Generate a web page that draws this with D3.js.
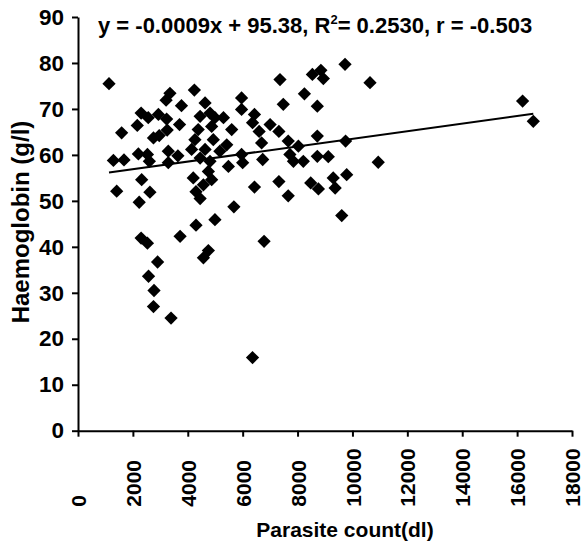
<!DOCTYPE html>
<html>
<head>
<meta charset="utf-8">
<script src="https://cdn.jsdelivr.net/npm/d3@7"></script>
<style>
  body { margin: 0; background: #fff; }
  text { font-family: "Liberation Sans", Arial, sans-serif; font-weight: bold; fill: #000; }
</style>
</head>
<body>
<div id="chart"></div>
<script>
// parasite count (per dl) and haemoglobin (g/l)
const parasiteCount = [
  1130, 1290, 1676, 1590, 1410, 2200, 2160, 2300, 2560, 2530, 2600, 2320, 2230, 2620,
  2930, 2750, 2960, 3250, 3210, 3350, 3290, 3290, 3230, 3770, 3700, 3640,
  4240, 4630, 4810, 4450, 5300, 5600, 4380, 4870, 4260, 4930, 5420, 4140, 4630, 5170,
  4450, 4810, 5480, 4750, 4200, 4870, 4570, 4300, 4450, 4990, 5680, 4990, 4300,
  5960, 5960, 5960, 6000, 6430, 6360, 6600, 6690, 6730, 6430, 7000, 7320, 7360, 7480,
  7660, 7720, 7850, 8210, 8030, 7320, 7660, 8250, 8540, 8850, 8940, 8720, 8720, 8720,
  9120, 8480, 8760, 9300, 9370, 9610, 9730, 9790, 9750, 10640, 10940, 16200, 16590,
  2300, 2530, 3720, 6780, 2900, 2570, 2770, 2750, 3390, 4570, 4750, 6360
];
const haemoglobin = [
  75.5, 58.8, 58.9, 64.8, 52.1, 60.2, 66.4, 69.1, 68.1, 60.1, 58.6, 54.6, 49.7, 51.9,
  68.8, 63.7, 64.2, 65.4, 71.9, 73.4, 60.8, 58.3, 67.8, 70.7, 66.6, 59.8,
  74.1, 71.3, 69.1, 68.4, 68.1, 65.5, 65.5, 66.2, 63.3, 63.3, 62.2, 61.2, 61.2, 60.8,
  59.3, 58.6, 57.5, 56.4, 55.0, 54.6, 53.5, 52.0, 50.5, 68.1, 48.7, 45.9, 44.7,
  72.4, 69.9, 60.1, 58.3, 68.8, 67.0, 65.1, 62.6, 59.0, 53.0, 66.6, 65.1, 76.4, 71.0,
  63.0, 60.1, 58.6, 58.6, 61.9, 54.2, 51.1, 73.3, 77.5, 78.4, 76.6, 70.6, 64.1, 59.7,
  59.6, 53.9, 52.6, 55.0, 52.8, 46.8, 79.7, 55.7, 63.0, 75.7, 58.4, 71.7, 67.3,
  41.9, 40.8, 42.3, 41.2, 36.7, 33.6, 30.5, 27.0, 24.5, 37.6, 39.2, 15.9
];
const xTicks = [0, 2000, 4000, 6000, 8000, 10000, 12000, 14000, 16000, 18000];
const yTicks = [0, 10, 20, 30, 40, 50, 60, 70, 80, 90];
// trend line as drawn (not the printed equation)
const trendSlope = 0.000827;
const trendIntercept = 55.24;
const equationBefore = "y = -0.0009x + 95.38, R";
const equationSup = "2";
const equationAfter = "= 0.2530, r = -0.503";
const xTitle = "Parasite count(dl)";
const yTitle = "Haemoglobin (g/l)";

const width = 584;
const height = 546;
const margin = { top: 17, right: 12, bottom: 115.3, left: 78 };

const points = parasiteCount.map((x, i) => ({ x, y: haemoglobin[i] }));

const x = d3.scaleLinear()
  .domain([0, 18000])
  .range([margin.left, width - margin.right]);
const y = d3.scaleLinear()
  .domain([0, 90])
  .range([height - margin.bottom, margin.top]);

const svg = d3.select("#chart").append("svg")
  .attr("width", width)
  .attr("height", height)
  .attr("viewBox", [0, 0, width, height]);

svg.append("rect").attr("width", width).attr("height", height).attr("fill", "#fff");

// y axis
const yAxis = svg.append("g")
  .attr("transform", `translate(${margin.left},0)`)
  .call(d3.axisLeft(y).tickValues(yTicks).tickSize(6).tickSizeOuter(0).tickPadding(8));
yAxis.selectAll("path, line").attr("stroke", "#000").attr("stroke-width", 2);
yAxis.selectAll("text").style("font-size", "22.5px").attr("fill", "#000");

// x axis
const xAxis = svg.append("g")
  .attr("transform", `translate(0,${y(0)})`)
  .call(d3.axisBottom(x).tickValues(xTicks).tickSize(6).tickSizeOuter(0).tickFormat(d3.format("d")));
xAxis.selectAll("path, line").attr("stroke", "#000").attr("stroke-width", 2);
xAxis.selectAll("text")
  .style("font-size", "21px")
  .attr("fill", "#000")
  .attr("text-anchor", "start")
  .attr("transform", "rotate(-90)")
  .attr("x", -76)
  .attr("y", 0)
  .attr("dy", "0.36em");

// trend line over the data range
const xExtent = d3.extent(parasiteCount);
svg.append("line")
  .attr("x1", x(xExtent[0]))
  .attr("y1", y(trendIntercept + trendSlope * xExtent[0]))
  .attr("x2", x(xExtent[1]))
  .attr("y2", y(trendIntercept + trendSlope * xExtent[1]))
  .attr("stroke", "#000")
  .attr("stroke-width", 2);

// diamonds
const diamond = d3.symbol(d3.symbolSquare, 88);
svg.append("g")
  .selectAll("path")
  .data(points)
  .join("path")
  .attr("d", diamond)
  .attr("fill", "#000")
  .attr("transform", (d) => `translate(${x(d.x)},${y(d.y)}) rotate(45)`);

// equation
const eq = svg.append("text")
  .attr("x", 98)
  .attr("y", 33)
  .style("font-size", "22px");
eq.append("tspan").text(equationBefore);
eq.append("tspan").attr("dy", -9).style("font-size", "13px").text(equationSup);
eq.append("tspan").attr("dy", 9).text(equationAfter);

// axis titles
svg.append("text")
  .attr("x", 345)
  .attr("y", 537)
  .attr("text-anchor", "middle")
  .style("font-size", "21px")
  .text(xTitle);

svg.append("text")
  .attr("transform", `translate(29,${222}) rotate(-90)`)
  .attr("text-anchor", "middle")
  .style("font-size", "24px")
  .text(yTitle);
</script>
</body>
</html>
